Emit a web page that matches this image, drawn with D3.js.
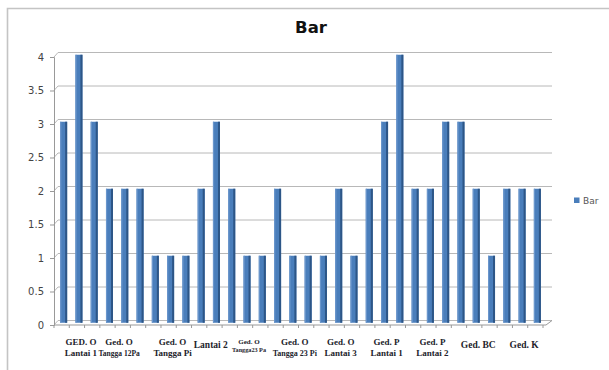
<!DOCTYPE html>
<html>
<head>
<meta charset="utf-8">
<script src="https://cdn.jsdelivr.net/npm/d3@7/dist/d3.min.js"></script>
<style>
  html, body { margin: 0; padding: 0; background: #fff; }
  svg { display: block; }
</style>
</head>
<body>
<svg id="chart" width="609" height="370"></svg>
<script>
// One column per measurement point
const values = [3, 4, 3, 2, 2, 2, 1, 1, 1, 2, 3, 2, 1, 1, 2, 1,
                1, 1, 2, 1, 2, 3, 4, 2, 2, 3, 3, 2, 1, 2, 2, 2];
const yTicks = [0, 0.5, 1, 1.5, 2, 2.5, 3, 3.5, 4];
const seriesName = "Bar";
const chartTitle = "Bar";

// Building group labels: first and last column of each group, and text lines
const groupFirst = [0, 3, 6, 9, 11, 14, 17, 20, 23, 26, 29];
const groupLast  = [2, 4, 8, 10, 13, 16, 19, 22, 25, 28, 31];
const groupLine1 = ["GED. O", "Ged. O", "Ged. O", "Lantai 2", "Ged. O", "Ged. O",
                    "Ged. O", "Ged. P", "Ged. P", "Ged. BC", "Ged. K"];
const groupLine2 = ["Lantai 1", "Tangga 12Pa", "Tangga Pi", "", "Tangga23 Pa", "Tangga 23 Pi",
                    "Lantai 3", "Lantai 1", "Lantai 2", "", ""];

const svg = d3.select("#chart");
const depthX = 4, depthY = 4.5;   // 3D offset of the back wall
const plotLeft = 54, plotRight = 543, plotTop = 57, plotBottom = 325;

const x = d3.scaleBand().domain(d3.range(values.length)).range([plotLeft, plotRight]).paddingInner(0.54).paddingOuter(0.27);
const xStep = d3.scaleBand().domain(d3.range(values.length)).range([plotLeft, plotRight]);
const y = d3.scaleLinear().domain([0, 4]).range([plotBottom, plotTop]);

// Chart frame
svg.append("path").attr("d", "M7.5,370 L7.5,8.5 L609,8.5")
  .attr("fill", "none").attr("stroke", "#c4c4c4").attr("stroke-width", 1.6);

// Title
svg.append("text").attr("x", 311).attr("y", 33).attr("text-anchor", "middle")
  .attr("font-family", "DejaVu Sans, sans-serif").attr("font-weight", "bold")
  .attr("font-size", 16.5).attr("fill", "#111").text(chartTitle);

// Back-wall gridlines with left-wall diagonals
const grid = svg.append("g").attr("fill", "none").attr("stroke", "#b8b8b8").attr("stroke-width", 1);
yTicks.forEach(t => {
  const yy = y(t);
  grid.append("path").attr("d",
    `M${plotLeft},${yy} L${plotLeft + depthX},${yy - depthY} L${plotRight + 5 + depthX},${yy - depthY}`);
});
// Floor front edge and right diagonal
grid.append("path").attr("d", `M${plotLeft},${plotBottom} L${plotRight + 3},${plotBottom} L${plotRight + 5 + depthX},${plotBottom - depthY}`)
  .attr("stroke", "#999");

// Y axis
const yAxis = d3.axisLeft(y).tickValues(yTicks).tickSize(4).tickPadding(6)
  .tickFormat(d3.format("~g"));
const ya = svg.append("g").attr("transform", `translate(${plotLeft},0)`).call(yAxis);
ya.select(".domain").attr("stroke", "#999");
ya.selectAll(".tick line").attr("stroke", "#999");
ya.selectAll(".tick text").attr("font-family", "DejaVu Sans, sans-serif")
  .attr("font-size", 10).attr("fill", "#444");

// Floor ticks at column boundaries
svg.append("g").selectAll("line").data(d3.range(values.length + 1)).join("line")
  .attr("x1", i => plotLeft + i * xStep.step()).attr("x2", i => plotLeft + i * xStep.step())
  .attr("y1", plotBottom).attr("y2", plotBottom + 3)
  .attr("stroke", "#999");

// Columns (drawn at mid depth)
const midX = depthX / 2, midY = depthY / 2;
const bars = svg.append("g").selectAll("g").data(values).join("g")
  .attr("transform", `translate(${midX},${-midY})`);
bars.append("rect")
  .attr("x", (d, i) => x(i)).attr("y", d => y(d))
  .attr("width", x.bandwidth()).attr("height", d => y(0) - y(d))
  .attr("fill", "#4a7ebb");
bars.append("rect")
  .attr("x", (d, i) => x(i) + x.bandwidth() - 2).attr("y", d => y(d))
  .attr("width", 2).attr("height", d => y(0) - y(d))
  .attr("fill", "#2d5687");
bars.append("rect")
  .attr("x", (d, i) => x(i)).attr("y", d => y(d))
  .attr("width", 1.2).attr("height", d => y(0) - y(d))
  .attr("fill", "#6a96cc");

// Legend
svg.append("rect").attr("x", 574).attr("y", 197.5).attr("width", 5.5).attr("height", 5.5).attr("fill", "#4a7ebb");
svg.append("text").attr("x", 583).attr("y", 203.5)
  .attr("font-family", "DejaVu Sans, sans-serif").attr("font-size", 9).attr("fill", "#555")
  .text(seriesName);

// Group labels under the axis
const line1Size = [9, 9, 9, 9.5, 7, 9, 9, 9, 9, 9.5, 9.5];
const line2Size = [9, 7.5, 9, 0, 6.2, 8, 9, 9, 9, 0, 0];
const labels = svg.append("g").attr("font-family", "Liberation Serif, Times New Roman, serif")
  .attr("font-weight", "bold").attr("fill", "#23232b").attr("text-anchor", "middle");
groupLine1.forEach((t, g) => {
  const cx = (x(groupFirst[g]) + x(groupLast[g]) + x.bandwidth()) / 2 + 4;
  const two = groupLine2[g] !== "";
  const small = line1Size[g] < 8;
  labels.append("text").attr("x", cx)
    .attr("y", two ? (small ? 344 : 345) : 347.5)
    .attr("font-size", line1Size[g]).text(t);
  if (two) {
    labels.append("text").attr("x", cx).attr("y", small ? 351.5 : 355.5)
      .attr("font-size", line2Size[g]).text(groupLine2[g]);
  }
});
</script>
</body>
</html>
